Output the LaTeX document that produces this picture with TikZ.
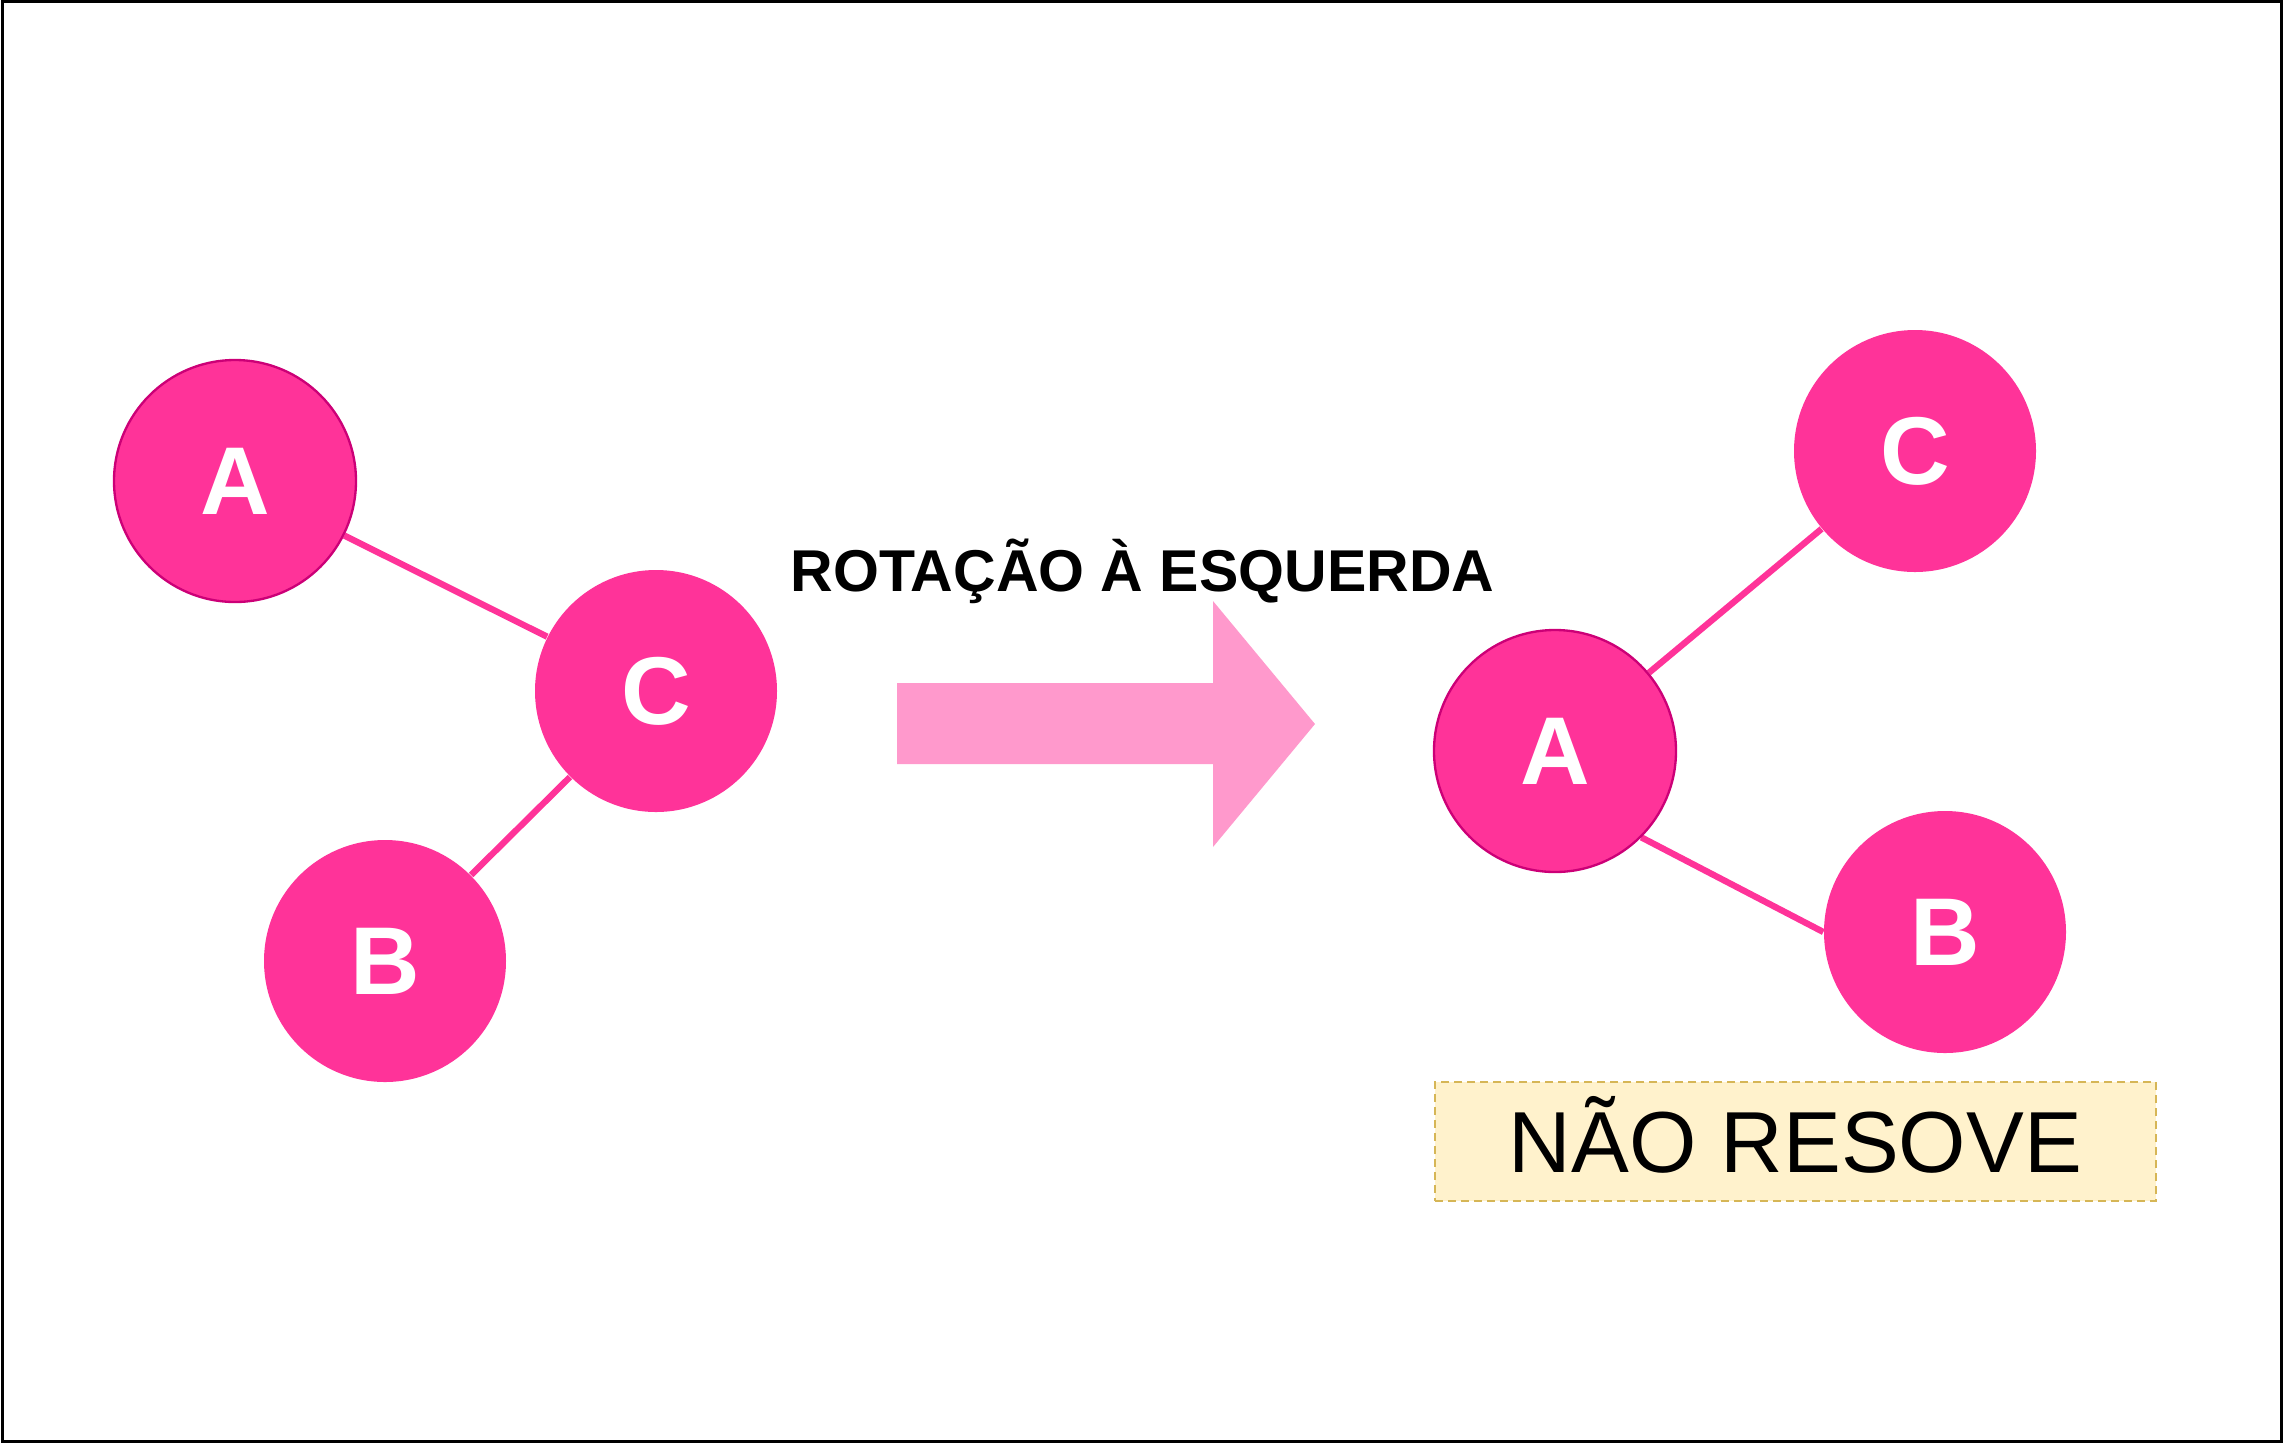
\documentclass[tikz,border=0pt]{standalone}
\usepackage{fontspec}
\setmainfont{Liberation Sans}
\usetikzlibrary{backgrounds}
\definecolor{nodepink}{HTML}{FF3399}
\definecolor{nodestroke}{HTML}{CC0077}
\definecolor{arrowpink}{HTML}{FF99CC}
\definecolor{notefill}{HTML}{FFF2CC}
\definecolor{notestroke}{HTML}{D6B656}
\tikzset{
  tnode/.style={circle, fill=nodepink, inner sep=0pt, minimum size=72.6pt,
    text=white, font=\fontsize{28.9}{30}\selectfont\bfseries},
  tnodeb/.style={tnode, draw=nodestroke, line width=0.7pt},
  edge/.style={draw=nodepink, line width=1.9pt},
}
\begin{document}
\begin{tikzpicture}[x=0.3pt, y=-0.3pt]
\useasboundingbox (0,0) rectangle (2283,1443);
\draw[black, line width=0.9pt] (2.5,1.5) rectangle (2281.5,1441.5);

% left tree
\node[tnodeb] (lA) at (235,481) {A};
\node[tnode]  (lC) at (656,691) {C};
\node[tnode]  (lB) at (385,961) {B};
\begin{scope}[on background layer]
\draw[edge] (lA) -- (lC);
\draw[edge] (lC.-135) -- (lB.45);
\end{scope}

% title
\node[anchor=base, inner sep=0pt, font=\fontsize{17.7}{20}\selectfont\bfseries] (title) at (1142.5,591) {ROTAÇÃO À ESQUERDA};

% big arrow
\fill[arrowpink] (897,683) -- (1213,683) -- (1213,601) -- (1315,724) -- (1213,847) -- (1213,764) -- (897,764) -- cycle;

% right tree
\node[tnodeb] (rA) at (1555,751) {A};
\node[tnode]  (rC) at (1915,451) {C};
\node[tnode]  (rB) at (1945,932) {B};
\begin{scope}[on background layer]
\draw[edge] (rA) -- (rC);
\draw[edge] (rA.-45) -- (rB.west);
\end{scope}

% note
\node[draw=notestroke, fill=notefill, line width=0.6pt, dash pattern=on 2.4pt off 1.5pt,
  minimum width=216.3pt, minimum height=35.7pt, inner sep=0pt,
  text height=18.6pt, text depth=0pt,
  font=\fontsize{26}{28}\selectfont] (note) at (1795.5,1141.5) {NÃO RESOVE};
\end{tikzpicture}
\end{document}
